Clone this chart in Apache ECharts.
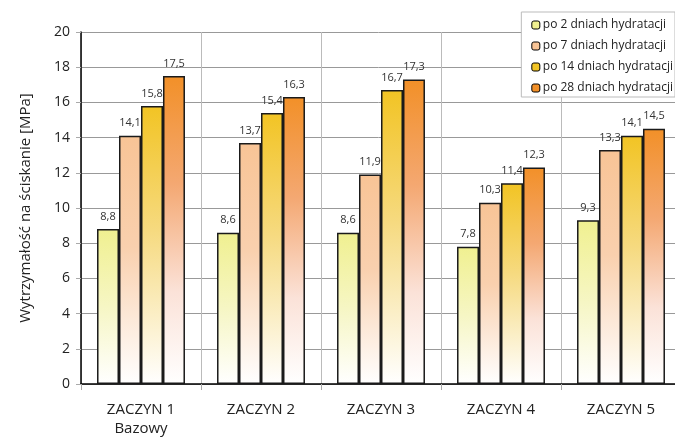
<!DOCTYPE html>
<html lang="pl">
<head>
    <meta charset="UTF-8">
    <title>Wytrzymałość na ściskanie</title>
    <script src="https://cdn.jsdelivr.net/npm/echarts@6/dist/echarts.min.js"></script>
</head>
<body style="margin:0">
<div id="main" style="width:675px;height:437px;"></div>
<script type="text/javascript">
    var categories = ['ZACZYN 1\nBazowy', 'ZACZYN 2', 'ZACZYN 3', 'ZACZYN 4', 'ZACZYN 5'];
    var seriesNames = ['po 2 dniach hydratacji', 'po 7 dniach hydratacji', 'po 14 dniach hydratacji', 'po 28 dniach hydratacji'];
    var day2 = [8.8, 8.6, 8.6, 7.8, 9.3];
    var day7 = [14.1, 13.7, 11.9, 10.3, 13.3];
    var day14 = [15.8, 15.4, 16.7, 11.4, 14.1];
    var day28 = [17.5, 16.3, 17.3, 12.3, 14.5];
    var yTicks = [0, 2, 4, 6, 8, 10, 12, 14, 16, 18, 20];

    var values = [day2, day7, day14, day28];
    // gradienty od góry słupka do bieli
    var stops = [
        [[0, '#f0f090'], [0.5, '#f6f6c4'], [1, '#ffffff']],
        [[0, '#f8c496'], [0.45, '#f9d0ae'], [1, '#ffffff']],
        [[0, '#f2c424'], [0.45, '#f6da80'], [1, '#ffffff']],
        [[0, '#f29028'], [0.35, '#f4a872'], [0.7, '#fbe2d8'], [1, '#ffffff']]
    ];

    var myChart = echarts.init(document.getElementById('main'));

    var series = values.map(function (v, i) {
        return {
            name: seriesNames[i],
            type: 'bar',
            data: v,
            barGap: 0,
            barCategoryGap: '26.7%',
            itemStyle: {
                color: new echarts.graphic.LinearGradient(0, 0, 0, 1, stops[i].map(function (s) {
                    return {offset: s[0], color: s[1]};
                })),
                borderColor: '#1a1a1a',
                borderWidth: 1.5
            },
            label: {
                show: true,
                position: 'top',
                distance: 7,
                fontSize: 11,
                color: '#333',
                fontFamily: 'Open Sans',
                formatter: function (p) {
                    return p.value.toFixed(1).replace('.', ',');
                }
            }
        };
    });

    var option = {
        animation: false,
        backgroundColor: '#ffffff',
        grid: {left: 81, right: -6, top: 32, bottom: 53, outerBoundsMode: 'none', containLabel: false},
        legend: {
            right: 0,
            top: 12,
            orient: 'vertical',
            itemWidth: 8,
            itemHeight: 8,
            itemGap: 9,
            padding: [7, 2, 3, 10],
            backgroundColor: '#ffffff',
            borderColor: '#bbbbbb',
            borderWidth: 1,
            textStyle: {fontSize: 12, color: '#222', fontFamily: 'Open Sans', padding: [0, 0, 0, -2]},
            data: seriesNames.map(function (n, i) {
                return {name: n, itemStyle: {color: stops[i][0][1], borderColor: '#000', borderWidth: 1}};
            })
        },
        xAxis: {
            type: 'category',
            data: categories,
            axisLine: {lineStyle: {color: '#000', width: 1.5}},
            axisTick: {show: true, length: 6, lineStyle: {color: '#aaa'}},
            axisLabel: {fontSize: 15, color: '#222', margin: 16, lineHeight: 19, fontFamily: 'Open Sans'},
            splitLine: {show: true, lineStyle: {color: '#bbb'}}
        },
        yAxis: {
            type: 'value',
            min: yTicks[0],
            max: yTicks[yTicks.length - 1],
            interval: 2,
            name: 'Wytrzymałość na ściskanie [MPa]',
            nameLocation: 'middle',
            nameGap: 48,
            nameTextStyle: {fontSize: 15, color: '#222', fontFamily: 'Open Sans'},
            axisLine: {show: true, lineStyle: {color: '#000', width: 1.5}},
            axisTick: {show: true, length: 5, lineStyle: {color: '#aaa'}},
            axisLabel: {fontSize: 14, color: '#222', margin: 11, fontFamily: 'Open Sans'},
            splitLine: {lineStyle: {color: '#999'}}
        },
        series: series
    };
    myChart.setOption(option);
</script>
</body>
</html>
